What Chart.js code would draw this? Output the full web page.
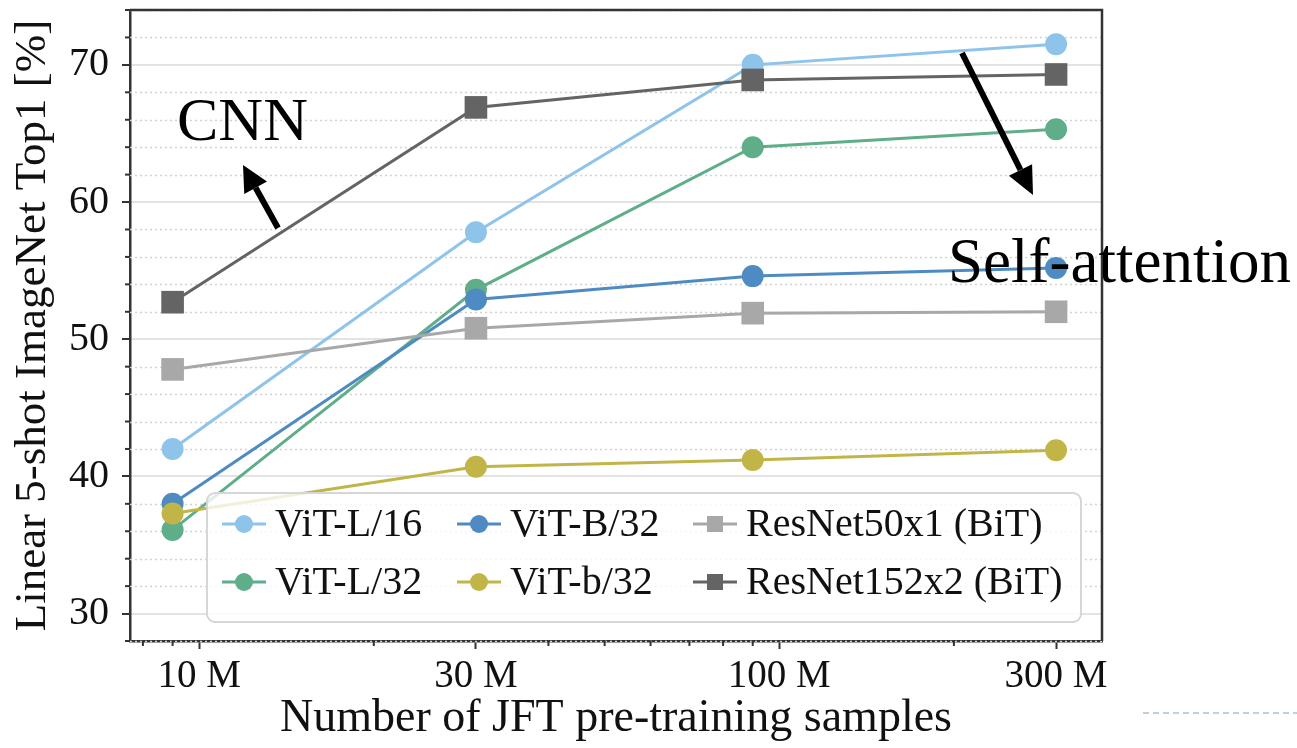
<!DOCTYPE html>
<html>
<head>
<meta charset="utf-8">
<title>Linear 5-shot ImageNet vs JFT samples</title>
<style>
  html, body { margin: 0; padding: 0; background: #fff; }
  #wrap { width: 1297px; height: 748px; }
</style>
</head>
<body>
<div id="wrap"><canvas id="chart" width="1297" height="748"></canvas></div>
<script src="https://cdn.jsdelivr.net/npm/chart.js@4"></script>
<script>
  // JFT subset sizes (points), tick values and labels
  var samples = [9e6, 30e6, 90e6, 300e6];
  var xMajorTicks = [1e7, 3e7, 1e8, 3e8];
  var xTickLabels = ['10 M', '30 M', '100 M', '300 M'];
  var xMinorTicks = [8e6, 9e6, 2e7, 4e7, 5e7, 6e7, 7e7, 8e7, 9e7, 2e8];
  var yMajorTicks = [30, 40, 50, 60, 70];

  // series, in the order they were plotted
  var seriesNames = ['ViT-L/16', 'ViT-L/32', 'ViT-B/32', 'ViT-b/32', 'ResNet50x1 (BiT)', 'ResNet152x2 (BiT)'];
  var vitL16   = [42.0, 57.8, 70.0, 71.5];
  var vitL32   = [36.1, 53.6, 64.0, 65.3];
  var vitB32   = [38.0, 52.9, 54.6, 55.2];
  var vitb32   = [37.3, 40.7, 41.2, 41.9];
  var res50x1  = [47.8, 50.8, 51.9, 52.0];
  var res152x2 = [52.7, 66.9, 68.9, 69.3];
  var seriesValues = [vitL16, vitL32, vitB32, vitb32, res50x1, res152x2];
  var seriesColors = ['#8ec3ea', '#5fae89', '#4e8bc3', '#c2b548', '#a8a8a8', '#646464'];
  var seriesMarkers = ['circle', 'circle', 'circle', 'circle', 'rect', 'rect'];

  var serif = "'Liberation Serif', 'Times New Roman', serif";

  var datasets = seriesNames.map(function (name, i) {
    var isRect = seriesMarkers[i] === 'rect';
    return {
      label: name,
      data: samples.map(function (s, j) { return {x: s, y: seriesValues[i][j]}; }),
      borderColor: seriesColors[i],
      backgroundColor: seriesColors[i],
      pointBackgroundColor: seriesColors[i],
      pointBorderWidth: 0,
      pointStyle: seriesMarkers[i],
      pointRadius: isRect ? 16 : 11,
      borderWidth: 3,
      tension: 0,
      clip: false,
      order: seriesNames.length - i
    };
  });

  function arrow(ctx, x0, y0, x1, y1, head, headW) {
    var ang = Math.atan2(y1 - y0, x1 - x0);
    var bx = x1 - head * Math.cos(ang), by = y1 - head * Math.sin(ang);
    ctx.beginPath(); ctx.moveTo(x0, y0); ctx.lineTo(bx, by); ctx.stroke();
    ctx.beginPath();
    ctx.moveTo(x1, y1);
    ctx.lineTo(bx + headW / 2 * Math.sin(ang), by - headW / 2 * Math.cos(ang));
    ctx.lineTo(bx - headW / 2 * Math.sin(ang), by + headW / 2 * Math.cos(ang));
    ctx.closePath(); ctx.fill();
  }

  var decor = {
    id: 'decor',
    beforeDatasetsDraw: function (chart) {
      var ctx = chart.ctx, a = chart.chartArea, ys = chart.scales.y;
      ctx.save();
      ctx.strokeStyle = '#d2d2d2';
      ctx.lineWidth = 1.5;
      ctx.setLineDash([2, 3]);
      ys.ticks.forEach(function (t) {
        if (yMajorTicks.indexOf(t.value) >= 0) return;
        var py = Math.round(ys.getPixelForValue(t.value)) + 0.5;
        ctx.beginPath(); ctx.moveTo(a.left, py); ctx.lineTo(a.right, py); ctx.stroke();
      });
      ctx.restore();
    },
    afterDatasetsDraw: function (chart) {
      // legend box, 3 columns x 2 rows (column-major like matplotlib)
      var ctx = chart.ctx;
      var colX = [222, 457, 693], rowY = [524, 582];
      ctx.save();
      ctx.beginPath();
      ctx.roundRect(207, 493, 874, 129, 8);
      ctx.fillStyle = 'rgba(255,255,255,0.8)';
      ctx.fill();
      ctx.strokeStyle = '#d6d6d6';
      ctx.lineWidth = 2;
      ctx.stroke();
      chart.data.datasets.forEach(function (ds, i) {
        var cx = colX[Math.floor(i / 2)], cy = rowY[i % 2];
        ctx.strokeStyle = ds.borderColor;
        ctx.fillStyle = ds.borderColor;
        ctx.lineWidth = 3;
        ctx.beginPath(); ctx.moveTo(cx, cy); ctx.lineTo(cx + 44, cy); ctx.stroke();
        if (ds.pointStyle === 'rect') {
          ctx.fillRect(cx + 22 - 8, cy - 8, 16, 16);
        } else {
          ctx.beginPath(); ctx.arc(cx + 22, cy, 9, 0, Math.PI * 2); ctx.fill();
        }
        ctx.fillStyle = '#111';
        ctx.font = '40px ' + serif;
        ctx.textBaseline = 'middle';
        ctx.textAlign = 'left';
        ctx.fillText(ds.label, cx + 53, cy + 1);
      });
      ctx.restore();
    },
    afterDraw: function (chart) {
      var ctx = chart.ctx, a = chart.chartArea, xs = chart.scales.x, ys = chart.scales.y;
      ctx.save();
      // top and right frame
      ctx.strokeStyle = '#333';
      ctx.lineWidth = 2.5;
      ctx.beginPath();
      ctx.moveTo(a.left, a.top); ctx.lineTo(a.right, a.top); ctx.lineTo(a.right, a.bottom);
      ctx.stroke();
      // minor ticks
      ctx.lineWidth = 2;
      xMinorTicks.forEach(function (v) {
        var px = xs.getPixelForValue(v);
        ctx.beginPath(); ctx.moveTo(px, a.bottom); ctx.lineTo(px, a.bottom + 5); ctx.stroke();
      });
      ys.ticks.forEach(function (t) {
        if (yMajorTicks.indexOf(t.value) >= 0) return;
        var py = ys.getPixelForValue(t.value);
        ctx.beginPath(); ctx.moveTo(a.left - 5, py); ctx.lineTo(a.left, py); ctx.stroke();
      });
      // annotations
      ctx.fillStyle = '#000';
      ctx.strokeStyle = '#000';
      ctx.font = '62px ' + serif;
      ctx.textBaseline = 'alphabetic';
      ctx.fillText('CNN', 177, 140);
      ctx.font = '63px ' + serif;
      ctx.fillText('Self-attention', 948, 282);
      ctx.lineWidth = 6;
      arrow(ctx, 278, 228, 243, 165, 26, 26);
      arrow(ctx, 962, 53, 1033, 195, 28, 26);
      // slide leftover: dashed rule bottom right
      ctx.strokeStyle = '#a9c0d8';
      ctx.lineWidth = 1.5;
      ctx.setLineDash([6, 4]);
      ctx.beginPath(); ctx.moveTo(1143, 713); ctx.lineTo(1297, 713); ctx.stroke();
      ctx.restore();
    }
  };

  new Chart(document.getElementById('chart'), {
    type: 'line',
    data: {datasets: datasets},
    plugins: [decor],
    options: {
      responsive: false,
      animation: false,
      devicePixelRatio: 1,
      layout: {autoPadding: false, padding: {top: 10, right: 195, bottom: 0, left: 0}},
      plugins: {legend: {display: false}, tooltip: {enabled: false}},
      scales: {
        x: {
          type: 'logarithmic',
          min: 7.6e6,
          max: 3.6e8,
          afterBuildTicks: function (s) {
            s.ticks = xMinorTicks.concat(xMajorTicks).sort(function (p, q) { return p - q; })
              .map(function (v) { return {value: v}; });
          },
          afterFit: function (s) { s.height = 107; s.paddingLeft = 0; s.paddingRight = 0; },
          ticks: {
            autoSkip: false, maxRotation: 0, minRotation: 0, padding: 4, color: '#111',
            font: {family: serif, size: 39, lineHeight: 1.2},
            callback: function (v) {
              var k = xMajorTicks.indexOf(v);
              return k >= 0 ? xTickLabels[k] : '';
            }
          },
          grid: {
            drawOnChartArea: false, tickLength: 8, tickWidth: 2,
            tickColor: function (c) {
              return c.tick && xMajorTicks.indexOf(c.tick.value) >= 0 ? '#333' : 'rgba(0,0,0,0)';
            }
          },
          border: {color: '#333', width: 2.5},
          title: {
            display: true, text: 'Number of JFT pre-training samples', color: '#111',
            font: {family: serif, size: 46, lineHeight: 1}, padding: {top: 0, bottom: 6}
          }
        },
        y: {
          min: 28,
          max: 74,
          afterFit: function (s) { s.width = 130; s.paddingTop = 0; s.paddingBottom = 0; },
          ticks: {
            stepSize: 2, autoSkip: false, padding: 13, color: '#111',
            font: {family: serif, size: 40, lineHeight: 1.2},
            callback: function (v) { return yMajorTicks.indexOf(v) >= 0 ? String(v) : ''; }
          },
          grid: {
            lineWidth: 2, tickLength: 8, tickWidth: 2,
            color: function (c) {
              return c.tick && yMajorTicks.indexOf(c.tick.value) >= 0 ? '#e3e3e3' : 'rgba(0,0,0,0)';
            },
            tickColor: function (c) {
              return c.tick && yMajorTicks.indexOf(c.tick.value) >= 0 ? '#333' : 'rgba(0,0,0,0)';
            }
          },
          border: {color: '#333', width: 2.5},
          title: {
            display: true, text: 'Linear 5-shot ImageNet Top1 [%]', color: '#111',
            font: {family: serif, size: 45, lineHeight: 1}, padding: {top: 11, bottom: 0}
          }
        }
      }
    }
  });
</script>
</body>
</html>
